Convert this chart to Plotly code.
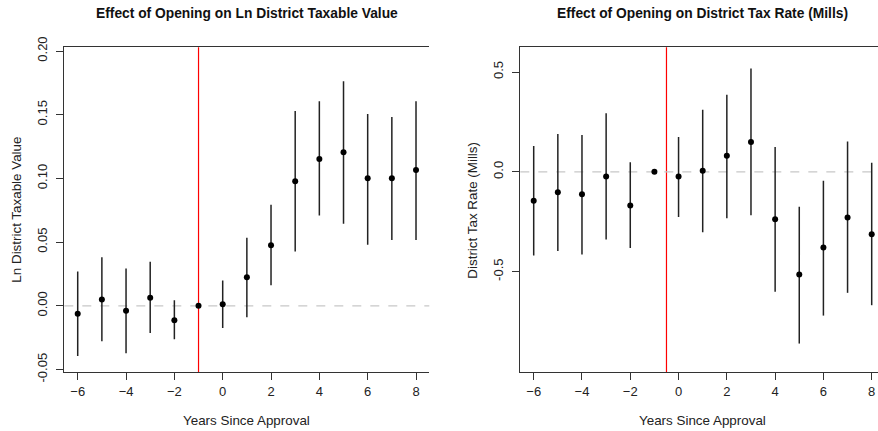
import plotly.graph_objects as go

years = [-6, -5, -4, -3, -2, -1, 0, 1, 2, 3, 4, 5, 6, 7, 8]

# Left panel: Ln District Taxable Value
val_est = [-0.0061, 0.0050, -0.0039, 0.0063, -0.0113, 0.0, 0.0013, 0.0225, 0.0476,
           0.0977, 0.1152, 0.1205, 0.1001, 0.1001, 0.1066]
val_hi = [0.0270, 0.0382, 0.0293, 0.0346, 0.0044, None, 0.0199, 0.0535, 0.0794,
          0.1530, 0.1606, 0.1763, 0.1506, 0.1483, 0.1606]
val_lo = [-0.0393, -0.0278, -0.0372, -0.0212, -0.0262, None, -0.0173, -0.0090, 0.0162,
          0.0427, 0.0710, 0.0645, 0.0480, 0.0516, 0.0516]

# Right panel: District Tax Rate (Mills)
rate_est = [-0.145, -0.102, -0.112, -0.023, -0.169, 0.0, -0.023, 0.005, 0.080,
            0.150, -0.237, -0.514, -0.379, -0.229, -0.312]
rate_hi = [0.129, 0.190, 0.185, 0.294, 0.048, None, 0.175, 0.311, 0.386,
           0.518, 0.124, -0.175, -0.045, 0.152, 0.045]
rate_lo = [-0.419, -0.396, -0.414, -0.339, -0.382, None, -0.226, -0.302, -0.232,
           -0.217, -0.601, -0.860, -0.720, -0.606, -0.668]

left_title = "Effect of Opening on Ln District Taxable Value"
right_title = "Effect of Opening on District Tax Rate (Mills)"
x_title = "Years Since Approval"
left_ytitle = "Ln District Taxable Value"
right_ytitle = "District Tax Rate (Mills)"
left_yticks = [-0.05, 0.0, 0.05, 0.10, 0.15, 0.20]
left_yticklabels = ["-0.05", "0.00", "0.05", "0.10", "0.15", "0.20"]
right_yticks = [-0.5, 0.0, 0.5]
right_yticklabels = ["-0.5", "0.0", "0.5"]
xticks = [-6, -4, -2, 0, 2, 4, 6, 8]

W, H = 878, 431
FONT = "Liberation Sans, Arial, sans-serif"
AX = "#333333"


def errs(est, hi, lo):
    plus = [(h - e) if h is not None else 0 for e, h in zip(est, hi)]
    minus = [(e - l) if l is not None else 0 for e, l in zip(est, lo)]
    return plus, minus


fig = go.Figure()
for est, hi, lo, xa, ya in [(val_est, val_hi, val_lo, "x", "y"),
                             (rate_est, rate_hi, rate_lo, "x2", "y2")]:
    p, m = errs(est, hi, lo)
    fig.add_trace(go.Scatter(
        x=years, y=est, mode="markers", xaxis=xa, yaxis=ya,
        marker=dict(color="black", size=6),
        error_y=dict(type="data", symmetric=False, array=p, arrayminus=m,
                     width=0, thickness=1.5, color="#222222"),
        showlegend=False, hoverinfo="x+y", cliponaxis=False))

ydom = [1 - 372 / H, 1 - 47.3 / H]
lx = [64.3 / W, 429.3 / W]
rx = [520.3 / W, 1.0]

common_x = dict(showline=True, mirror=True, linecolor=AX, linewidth=1,
                ticks="outside", ticklen=7, tickcolor=AX, tickvals=xticks,
                showgrid=False, zeroline=False, automargin=False,
                tickfont=dict(family=FONT, size=13, color="#222"),
                ticklabelstandoff=0)
common_y = dict(showline=True, mirror=False, linecolor=AX, linewidth=1,
                ticks="outside", ticklen=7, tickcolor=AX, automargin=False,
                showgrid=False, zeroline=False, tickangle=-90,
                tickfont=dict(family=FONT, size=13, color="#222"),
                ticklabelstandoff=4)

fig.update_layout(
    width=W, height=H, margin=dict(l=0, r=0, t=0, b=0, autoexpand=False),
    paper_bgcolor="white", plot_bgcolor="white",
    xaxis=dict(domain=lx, range=[-6.555, 8.55], anchor="y", **common_x),
    yaxis=dict(domain=ydom, range=[-0.0519, 0.2029], anchor="x",
               tickvals=left_yticks, ticktext=left_yticklabels, **common_y),
    xaxis2=dict(domain=rx, range=[-6.555, 8.261], anchor="y2", **common_x),
    yaxis2=dict(domain=ydom, range=[-1.0025, 0.6237], anchor="x2",
                tickvals=right_yticks, ticktext=right_yticklabels, **common_y),
)

shapes = []
for xr, yr, xpos in [("x", "y", -1), ("x2", "y2", -0.5)]:
    shapes.append(dict(type="line", xref=xr, yref=yr + " domain",
                       x0=xpos, x1=xpos, y0=0, y1=1,
                       line=dict(color="red", width=1.2), layer="below"))
    shapes.append(dict(type="line", xref=xr + " domain", yref=yr,
                       x0=0, x1=1, y0=0, y1=0,
                       line=dict(color="#c8c8c8", width=1.2, dash="dash"), layer="below"))
fig.update_layout(shapes=shapes)


def A(text, x, y, angle=0, bold=False, size=13.4):
    return dict(text=("<b>%s</b>" % text) if bold else text, x=x, y=y,
                xref="paper", yref="paper", xanchor="center", yanchor="middle",
                showarrow=False, textangle=angle,
                font=dict(family=FONT, size=size, color="#111" if bold else "#222"))


lcx = (lx[0] + lx[1]) / 2
rcx = 702.7 / W
cy = 1 - ((47.3 + 372) / 2) / H
ann = [
    A(left_title, lcx, 1 - 13 / H, bold=True, size=13.8),
    A(right_title, rcx, 1 - 13 / H, bold=True, size=13.8),
    A(x_title, lcx, 1 - 420 / H),
    A(x_title, rcx, 1 - 420 / H),
    A(left_ytitle, 17 / W, cy, angle=-90),
    A(right_ytitle, 473 / W, cy, angle=-90),
]
fig.update_layout(annotations=ann)

fig.write_html("out.html", config={"displayModeBar": False},
               post_script="document.body.style.margin='0';")
